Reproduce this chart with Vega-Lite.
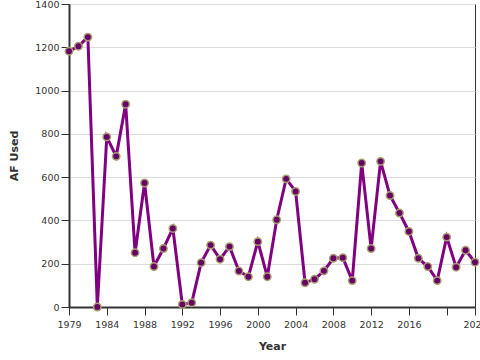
{
  "$schema": "https://vega.github.io/schema/vega-lite/v6.json",
  "width": 406,
  "height": 303,
  "autosize": {"type": "none"},
  "padding": {"left": 69, "top": 4, "right": 5, "bottom": 53},
  "background": "white",
  "config": {
    "view": {"stroke": "#333", "strokeWidth": 1},
    "font": "DejaVu Sans",
    "axis": {
      "labelFont": "DejaVu Sans",
      "labelFontSize": 9.5,
      "labelColor": "#333",
      "titleFont": "DejaVu Sans",
      "titleFontSize": 11,
      "titleFontWeight": "bold",
      "titleColor": "#333",
      "domainColor": "#333",
      "domainWidth": 2,
      "tickColor": "#333",
      "tickWidth": 1,
      "tickSize": 8
    }
  },
  "data": {
    "values": [
      {"Year": 1980, "AF": 1182},
      {"Year": 1981, "AF": 1205},
      {"Year": 1982, "AF": 1247},
      {"Year": 1983, "AF": 0},
      {"Year": 1984, "AF": 786},
      {"Year": 1985, "AF": 696},
      {"Year": 1986, "AF": 937},
      {"Year": 1987, "AF": 251},
      {"Year": 1988, "AF": 573},
      {"Year": 1989, "AF": 187},
      {"Year": 1990, "AF": 270},
      {"Year": 1991, "AF": 363},
      {"Year": 1992, "AF": 12},
      {"Year": 1993, "AF": 20},
      {"Year": 1994, "AF": 205},
      {"Year": 1995, "AF": 286},
      {"Year": 1996, "AF": 221},
      {"Year": 1997, "AF": 279},
      {"Year": 1998, "AF": 166},
      {"Year": 1999, "AF": 140},
      {"Year": 2000, "AF": 302},
      {"Year": 2001, "AF": 140},
      {"Year": 2002, "AF": 403},
      {"Year": 2003, "AF": 592},
      {"Year": 2004, "AF": 534},
      {"Year": 2005, "AF": 112},
      {"Year": 2006, "AF": 128},
      {"Year": 2007, "AF": 167},
      {"Year": 2008, "AF": 225},
      {"Year": 2009, "AF": 228},
      {"Year": 2010, "AF": 122},
      {"Year": 2011, "AF": 665},
      {"Year": 2012, "AF": 270},
      {"Year": 2013, "AF": 673},
      {"Year": 2014, "AF": 515},
      {"Year": 2015, "AF": 434},
      {"Year": 2016, "AF": 349},
      {"Year": 2017, "AF": 225},
      {"Year": 2018, "AF": 187},
      {"Year": 2019, "AF": 122},
      {"Year": 2020, "AF": 323},
      {"Year": 2021, "AF": 184},
      {"Year": 2022, "AF": 262},
      {"Year": 2023, "AF": 207}
    ]
  },
  "encoding": {
    "x": {
      "field": "Year",
      "type": "quantitative",
      "scale": {"domain": [1980, 2023], "nice": false, "zero": false},
      "axis": {
        "title": "Year",
        "values": [1980, 1984, 1988, 1992, 1996, 2000, 2004, 2008, 2012, 2016, 2020, 2023],
        "labelExpr": "datum.value == 1980 ? '1979' : datum.value == 2023 ? '2022' : datum.value == 2020 ? '' : toString(datum.value)",
        "grid": false,
        "labelPadding": 4,
        "labelOverlap": false,
        "labelFlush": false,
        "labelBound": false,
        "titleY": 39,
        "titleBaseline": "middle"
      }
    },
    "y": {
      "field": "AF",
      "type": "quantitative",
      "scale": {"domain": [0, 1400], "nice": false},
      "axis": {
        "title": "AF Used",
        "values": [0, 200, 400, 600, 800, 1000, 1200, 1400],
        "format": "d",
        "grid": true,
        "gridColor": "#dcdcdc",
        "gridWidth": 1,
        "labelPadding": 2,
        "titleX": -55,
        "titleBaseline": "middle"
      }
    }
  },
  "layer": [
    {"mark": {"type": "line", "color": "#800080", "strokeWidth": 3}},
    {"mark": {"type": "point", "filled": true, "fill": "#660066", "stroke": "#a8a070", "strokeWidth": 1.5, "size": 55, "opacity": 1}}
  ]
}
